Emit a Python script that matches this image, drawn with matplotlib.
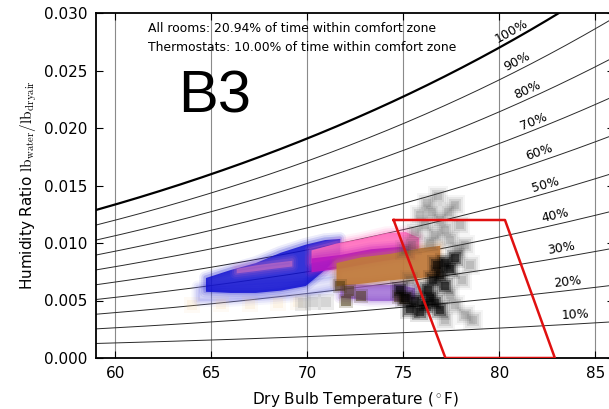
import numpy as np
import matplotlib
matplotlib.use("Agg")
import matplotlib.pyplot as plt

# ---------------- data ----------------
pressure_psia = 12.2
rh_levels = [10, 20, 30, 40, 50, 60, 70, 80, 90, 100]
rh_label_temps = [84.0, 83.6, 83.3, 83.0, 82.5, 82.2, 81.9, 81.6, 81.1, 80.8]
x_ticks = [60, 65, 70, 75, 80, 85]
y_ticks = [0.000, 0.005, 0.010, 0.015, 0.020, 0.025, 0.030]

comfort_T = [74.5, 80.3, 82.9, 77.2, 74.5]
comfort_W = [0.0120, 0.0120, 0.0000, 0.0000, 0.0120]

# Bands (temperature, low humidity ratio, high humidity ratio)
blue_faint_T = [64.3, 66.0, 68.0, 70.0, 71.5]
blue_faint_lo = [0.0050, 0.0050, 0.0052, 0.0055, 0.0060]
blue_faint_hi = [0.0062, 0.0064, 0.0066, 0.0068, 0.0072]

blue_T = [64.7, 66.0, 67.3, 68.6, 69.9, 70.9, 71.7]
blue_lo = [0.0058, 0.0057, 0.0057, 0.0059, 0.0063, 0.0077, 0.0090]
blue_hi = [0.0070, 0.0077, 0.0083, 0.0092, 0.0099, 0.0103, 0.0104]

pinkstripe_T = [66.3, 67.3, 68.2, 69.2]
pinkstripe_lo = [0.0074, 0.0076, 0.0078, 0.0080]
pinkstripe_hi = [0.0078, 0.0081, 0.0083, 0.0085]

pink_T = [70.2, 71.5, 72.8, 74.1, 75.1, 75.8]
pink_lo = [0.0083, 0.0087, 0.0090, 0.0094, 0.0096, 0.0094]
pink_hi = [0.0094, 0.0100, 0.0104, 0.0109, 0.0110, 0.0105]

magenta_T = [70.2, 71.7, 73.3, 74.8, 75.6]
magenta_lo = [0.0075, 0.0078, 0.0083, 0.0087, 0.0087]
magenta_hi = [0.0087, 0.0090, 0.0095, 0.0097, 0.0094]

brown_T = [71.5, 72.8, 74.3, 75.9, 76.9]
brown_lo = [0.0063, 0.0065, 0.0068, 0.0070, 0.0072]
brown_hi = [0.0083, 0.0088, 0.0091, 0.0096, 0.0098]

purple_T = [71.7, 73.3, 74.8, 75.6]
purple_lo = [0.0053, 0.0050, 0.0050, 0.0052]
purple_hi = [0.0065, 0.0064, 0.0064, 0.0061]

olive_T = [71.7, 72.2, 72.8, 74.8, 75.1, 72.0]
olive_W = [0.0063, 0.0058, 0.0054, 0.0053, 0.0051, 0.0050]

lightgray_T = [70.3, 71.0, 69.8]
lightgray_W = [0.0049, 0.0049, 0.0048]

orange_T = [64.0, 65.5, 67.0, 68.5, 69.5]
orange_W = [0.0046, 0.0047, 0.0047, 0.0048, 0.0049]

black_T = [76.77, 77.19, 76.93, 77.45, 76.56, 77.19, 77.71, 76.30, 75.63,
           76.15, 76.67, 75.36, 76.93, 75.89, 76.41, 74.84, 75.10]
black_W = [0.0081, 0.0083, 0.0072, 0.0077, 0.0068, 0.0063, 0.0087, 0.0059, 0.0050,
           0.0046, 0.0048, 0.0043, 0.0042, 0.0040, 0.0052, 0.0059, 0.0052]

gray_T = [76.25, 75.89, 76.51, 76.93, 76.15, 77.19, 75.63, 76.67, 77.45, 77.71,
          77.97, 75.47, 77.86, 78.23, 78.49, 78.07, 77.45, 77.71, 78.23, 78.65,
          77.19, 75.89, 75.36, 75.10, 77.34, 76.82, 76.41]
gray_W = [0.0135, 0.0124, 0.0127, 0.0120, 0.0116, 0.0111, 0.0110, 0.0107, 0.0103, 0.0133,
          0.0116, 0.0098, 0.0094, 0.0098, 0.0081, 0.0068, 0.0055, 0.0046, 0.0037, 0.0033,
          0.0033, 0.0059, 0.0068, 0.0094, 0.0127, 0.0141, 0.0100]

text_all = "All rooms: 20.94% of time within comfort zone"
text_thermo = "Thermostats: 10.00% of time within comfort zone"
panel_label = "B3"

# ---------------- helpers ----------------
def psat_psia(t_f):
    tr = np.asarray(t_f) + 459.67
    c8, c9, c10, c11, c12, c13 = (-1.0440397e4, -1.1294650e1, -2.7022355e-2,
                                  1.2890360e-5, -2.4780681e-9, 6.5459673)
    return np.exp(c8 / tr + c9 + c10 * tr + c11 * tr**2 + c12 * tr**3 + c13 * np.log(tr))

def hum_ratio(t_f, rh):
    pw = rh / 100.0 * psat_psia(t_f)
    return 0.621945 * pw / (pressure_psia - pw)

# ---------------- figure ----------------
plt.rcParams['mathtext.fontset'] = 'cm'
fig = plt.figure(figsize=(6.09, 4.09), dpi=100)
ax = fig.add_axes([96 / 609, 51 / 409, 518.4 / 609, 345 / 409])
ax.set_xlim(59, 86)
ax.set_ylim(0, 0.030)

for xt in x_ticks:
    ax.axvline(xt, color='#8a8a8a', lw=0.8, zorder=1)

tt = np.linspace(59, 86, 300)
for rh in rh_levels:
    if rh == 100:
        ax.plot(tt, hum_ratio(tt, rh), color='black', lw=1.6, zorder=2)
    else:
        ax.plot(tt, hum_ratio(tt, rh), color='#2a2a2a', lw=0.7, zorder=2)

fig.canvas.draw()
for rh, tl in zip(rh_levels, rh_label_temps):
    w0 = hum_ratio(tl, rh)
    p1 = ax.transData.transform((tl - 0.3, hum_ratio(tl - 0.3, rh)))
    p2 = ax.transData.transform((tl + 0.3, hum_ratio(tl + 0.3, rh)))
    ang = np.degrees(np.arctan2(p2[1] - p1[1], p2[0] - p1[0]))
    ax.text(tl, w0 + 0.0002, f"{rh}%", rotation=ang, rotation_mode='anchor',
            ha='center', va='bottom', fontsize=9, zorder=3)

def band(T, lo, hi, color, alpha=0.9, z=4):
    for lw, a in [(9, 0.08), (6, 0.12), (3, 0.2)]:
        ax.fill_between(T, lo, hi, facecolor='none', edgecolor=color, alpha=a, lw=lw,
                        zorder=z)
    ax.fill_between(T, lo, hi, color=color, alpha=alpha, lw=0, zorder=z)

band(blue_faint_T, blue_faint_lo, blue_faint_hi, '#8080e8', alpha=0.2, z=3)
band(blue_T, blue_lo, blue_hi, '#1010d0', alpha=0.85)
band(pinkstripe_T, pinkstripe_lo, pinkstripe_hi, '#d070c0', alpha=0.6)
band(pink_T, pink_lo, pink_hi, '#ff66bb', alpha=0.85)
band(magenta_T, magenta_lo, magenta_hi, '#b818c0', alpha=0.9)
band(purple_T, purple_lo, purple_hi, '#8a4ccc', alpha=0.7)
band(brown_T, brown_lo, brown_hi, '#c07a3c', alpha=0.95, z=5)

for s, a in [(120, 0.08), (60, 0.12)]:
    ax.scatter(orange_T, orange_W, marker='s', s=s, color='#f5c880', alpha=a, lw=0, zorder=3)
    ax.scatter(lightgray_T, lightgray_W, marker='s', s=s, color='#a0a0a0', alpha=a * 2.5,
               lw=0, zorder=4)
for s, a in [(110, 0.2), (55, 0.5)]:
    ax.scatter(olive_T, olive_W, marker='s', s=s, color='#4a3810', alpha=a, lw=0, zorder=6)

for s, a in [(200, 0.05), (130, 0.08), (80, 0.12), (40, 0.15)]:
    ax.scatter(gray_T, gray_W, marker='s', s=s, color='#404040', alpha=a, lw=0, zorder=6)
for s, a in [(220, 0.1), (140, 0.2), (80, 0.35), (40, 0.5)]:
    ax.scatter(black_T, black_W, marker='s', s=s, color='black', alpha=a, lw=0, zorder=7)

ax.plot(comfort_T, comfort_W, color='#e01010', lw=1.8, zorder=8)

ax.text(0.100, 0.954, text_all, transform=ax.transAxes, fontsize=8.9, va='center', ha='left')
ax.text(0.100, 0.901, text_thermo, transform=ax.transAxes, fontsize=8.9, va='center', ha='left')
ax.text(0.158, 0.757, panel_label, transform=ax.transAxes, fontsize=43, va='center',
        ha='left', family='Liberation Sans')

ax.set_xticks(x_ticks)
ax.set_yticks(y_ticks)
ax.set_yticklabels([f"{v:.3f}" for v in y_ticks])
ax.tick_params(direction='in', top=True, right=True, labelsize=11, length=5, width=0.8, pad=6)
for sp in ax.spines.values():
    sp.set_linewidth(1.3)

ax.set_xlabel(r"Dry Bulb Temperature ($^\circ$F)", fontsize=11, labelpad=6)
ax.set_ylabel(r"Humidity Ratio $\mathrm{lb_{water}/lb_{dryair}}$", fontsize=11, labelpad=4)

fig.savefig("out.png", dpi=100)
